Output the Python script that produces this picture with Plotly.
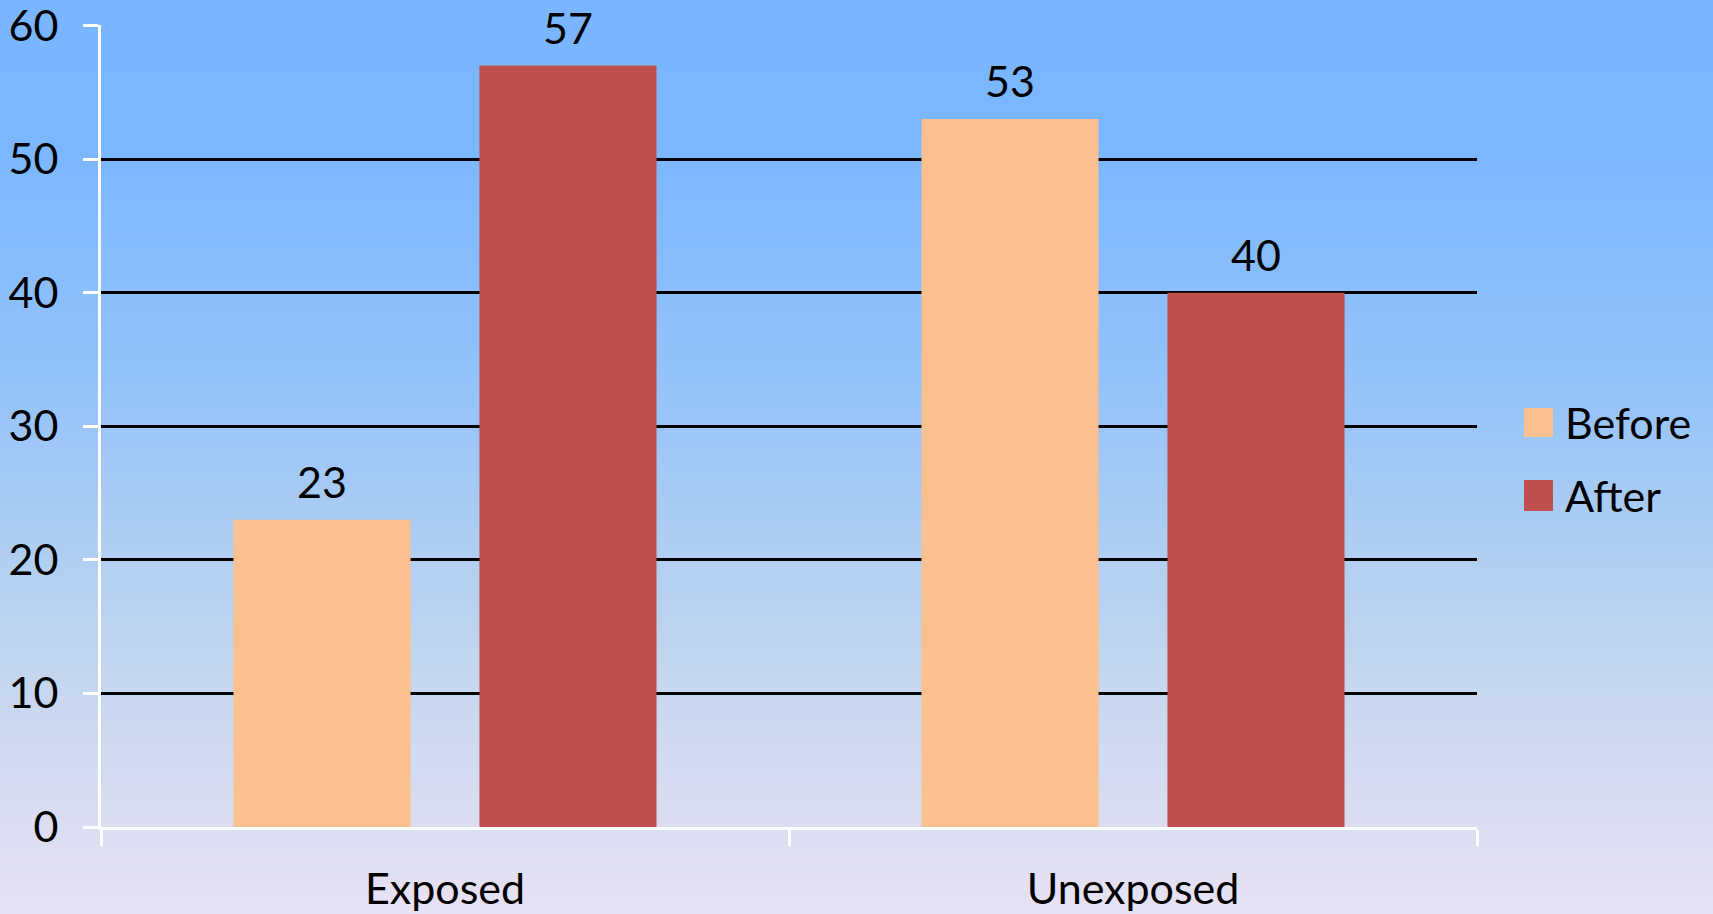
import plotly.graph_objects as go

categories = ["Exposed", "Unexposed"]
series_names = ["Before", "After"]
before_values = [23, 53]
after_values = [57, 40]
series_colors = ["#FAC090", "#C0504D"]
y_ticks = [0, 10, 20, 30, 40, 50, 60]

FONT = "Lato, Open Sans, sans-serif"
FS = 43
W, H = 1713, 914
ML, MR, MT, MB = 101, 236, 25, 87
BARGAP = 0.285
GROUPGAP = 0.28

fig = go.Figure()
for name, vals, col in zip(series_names, [before_values, after_values], series_colors):
    fig.add_trace(go.Bar(x=categories, y=vals, name=name, marker=dict(color=col, line=dict(width=0)),
                         showlegend=False))

# data labels via annotations, positioned through the axis (category index +/- bar offset)
slot = (1 - BARGAP) / 2
for si, vals in enumerate([before_values, after_values]):
    off = (si - 0.5) * slot
    for ci, v in enumerate(vals):
        fig.add_annotation(x=ci + off, y=v, xref="x", yref="y", text=str(v), showarrow=False,
                           yanchor="bottom", yshift=11, font=dict(family=FONT, size=FS, color="black"))

# background gradient (decorative)
stops = [(0.0, (122, 182, 255)), (0.15, (122, 183, 255)), (0.4, (145, 193, 250)),
         (0.55, (168, 203, 244)), (0.7, (190, 212, 238)), (0.85, (212, 219, 240)),
         (1.0, (232, 226, 244))]

def grad(t):
    for (t0, c0), (t1, c1) in zip(stops[:-1], stops[1:]):
        if t0 <= t <= t1:
            f = (t - t0) / (t1 - t0) if t1 > t0 else 0
            return "rgb(%d,%d,%d)" % tuple(round(a + (b - a) * f) for a, b in zip(c0, c1))
    return "rgb(%d,%d,%d)" % stops[-1][1]

pw, ph = W - ML - MR, H - MT - MB
N = 92
for i in range(N):
    py0 = H * i / N
    py1 = H * (i + 1) / N + 1
    fig.add_shape(type="rect", xref="paper", yref="paper",
                  x0=-ML / pw, x1=(W - ML) / pw,
                  y0=(H - MB - py1) / ph, y1=(H - MB - py0) / ph,
                  fillcolor=grad((i + 0.5) / N), line=dict(width=0), layer="below")

# manual legend with large swatches
leg_rows = [(408, 437), (480, 511)]
for name, col, (y0, y1) in zip(series_names, series_colors, leg_rows):
    fig.add_shape(type="rect", xref="paper", yref="paper",
                  x0=(1524 - ML) / pw, x1=(1553 - ML) / pw,
                  y0=(H - MB - y1) / ph, y1=(H - MB - y0) / ph,
                  fillcolor=col, line=dict(width=0))
    fig.add_annotation(x=(1563 - ML) / pw, y=(H - MB - (y0 + y1) / 2) / ph, xref="paper", yref="paper",
                       text=name, showarrow=False, xanchor="left", yanchor="middle",
                       font=dict(family=FONT, size=FS, color="black"))

fig.update_layout(
    width=W, height=H,
    margin=dict(l=ML, r=MR, t=MT, b=MB, autoexpand=False),
    paper_bgcolor="rgb(232,226,244)",
    plot_bgcolor="rgba(0,0,0,0)",
    barmode="group", bargap=BARGAP, bargroupgap=GROUPGAP,
    showlegend=False,
    font=dict(family=FONT, size=FS, color="black"),
)
fig.update_xaxes(automargin=False, showline=True, linecolor="white", linewidth=3, ticks="outside",
                 tickson="boundaries", ticklen=16, tickwidth=3, tickcolor="white", showgrid=False,
                 tickfont=dict(family=FONT, size=FS, color="black"), ticklabelstandoff=22)
fig.update_yaxes(automargin=False, range=[0, 60.04], tickvals=y_ticks, showline=True, linecolor="white",
                 linewidth=3, ticks="outside", ticklen=15, tickwidth=3, tickcolor="white",
                 showgrid=True, gridcolor="black", gridwidth=2.5, zeroline=False,
                 ticklabeloverflow="allow",
                 tickfont=dict(family=FONT, size=FS, color="black"), ticklabelstandoff=16)

fig.write_html("out.html")
